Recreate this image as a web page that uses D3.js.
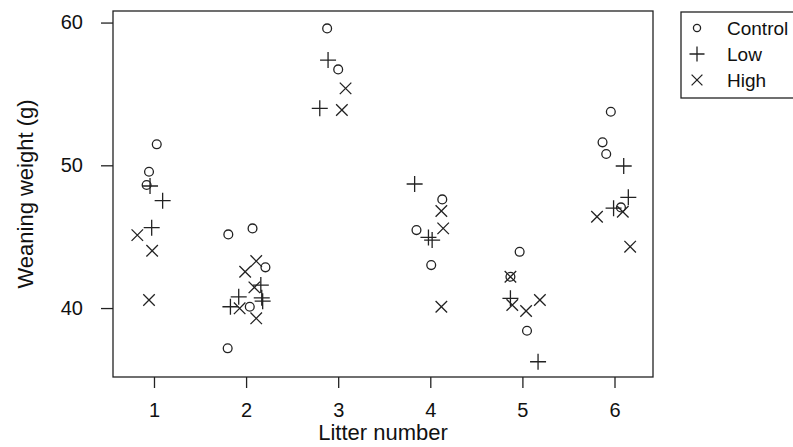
<!DOCTYPE html>
<html>
<head>
<meta charset="utf-8">
<script src="https://cdn.jsdelivr.net/npm/d3@7"></script>
<style>
  body { margin: 0; background: #fff; }
  svg { display: block; font-family: "Liberation Sans", Arial, sans-serif; }
</style>
</head>
<body>
<div id="chart"></div>
<script>
// jittered litter position and weaning weight (g)
const controlX = [1.03, 0.946, 0.92, 1.807, 2.07, 2.21, 2.04, 1.8, 2.88, 3.0, 4.13, 3.85, 4.01, 4.97, 4.87, 5.05, 5.96, 5.87, 5.91, 6.07];
const controlY = [51.47, 49.55, 48.62, 45.16, 45.58, 42.85, 40.09, 37.18, 59.59, 56.72, 47.61, 45.46, 43.01, 43.94, 42.19, 38.41, 53.75, 51.61, 50.79, 47.05];

const lowX = [0.957, 1.094, 0.975, 2.16, 2.17, 2.18, 1.92, 1.83, 2.89, 2.8, 3.83, 3.98, 4.02, 4.87, 5.17, 6.1, 6.15, 5.99];
const lowY = [48.55, 47.52, 45.63, 41.61, 40.72, 40.48, 40.79, 40.09, 57.37, 53.99, 48.69, 44.95, 44.76, 40.68, 36.24, 49.95, 47.76, 47.0];

const highX = [0.819, 0.98, 0.946, 2.11, 1.99, 2.09, 1.93, 2.11, 3.08, 3.04, 4.12, 4.14, 4.12, 4.87, 4.89, 5.19, 5.04, 6.09, 5.81, 6.17];
const highY = [45.11, 44.01, 40.56, 43.29, 42.54, 41.45, 39.98, 39.28, 55.39, 53.87, 46.8, 45.58, 40.09, 42.19, 40.21, 40.56, 39.79, 46.75, 46.4, 44.3];

const litters = [1, 2, 3, 4, 5, 6];
const weightTicks = [40, 50, 60];
const groups = ["Control", "Low", "High"];

/** Graph configs */
const width = 793;
const height = 447;
const box = { left: 113, right: 653, top: 11, bottom: 377 };
const ink = "#222";

const svg = d3
  .select("#chart")
  .append("svg")
  .attr("width", width)
  .attr("height", height);

const x = d3.scaleLinear().domain([0.555, 6.418]).range([box.left, box.right]);
const y = d3.scaleLinear().domain([35.17, 60.81]).range([box.bottom, box.top]);

// axes
const xAxis = svg
  .append("g")
  .attr("transform", `translate(0,${box.bottom})`)
  .call(
    d3.axisBottom(x)
      .tickValues(litters)
      .tickFormat(d3.format("d"))
      .tickSize(11)
      .tickPadding(15)
      .tickSizeOuter(0)
  );

const yAxis = svg
  .append("g")
  .attr("transform", `translate(${box.left},0)`)
  .call(
    d3.axisLeft(y)
      .tickValues(weightTicks)
      .tickFormat(d3.format("d"))
      .tickSize(12)
      .tickPadding(18)
      .tickSizeOuter(0)
  );

[xAxis, yAxis].forEach((g) => {
  g.select(".domain").remove();
  g.selectAll(".tick line").attr("stroke", ink).attr("stroke-width", 1.3);
  g.selectAll(".tick text")
    .attr("fill", "#111")
    .style("font-size", "20px");
});

// plot frame
svg
  .append("rect")
  .attr("x", box.left)
  .attr("y", box.top)
  .attr("width", box.right - box.left)
  .attr("height", box.bottom - box.top)
  .attr("fill", "none")
  .attr("stroke", ink)
  .attr("stroke-width", 1.3);

// axis titles
svg
  .append("text")
  .attr("x", (box.left + box.right) / 2)
  .attr("y", 440)
  .attr("text-anchor", "middle")
  .attr("fill", "#111")
  .style("font-size", "22px")
  .text("Litter number");

svg
  .append("text")
  .attr("transform", `translate(33,${(box.top + box.bottom) / 2}) rotate(-90)`)
  .attr("text-anchor", "middle")
  .attr("fill", "#111")
  .style("font-size", "22px")
  .text("Weaning weight (g)");

/** marker drawing */
const drawMarker = (g, kind, cx, cy, s) => {
  if (kind === "Control") {
    g.append("circle")
      .attr("cx", cx)
      .attr("cy", cy)
      .attr("r", s * 0.55)
      .attr("fill", "none")
      .attr("stroke", ink)
      .attr("stroke-width", 1.3);
  } else if (kind === "Low") {
    const a = s;
    g.append("path")
      .attr("d", `M${cx - a},${cy}H${cx + a}M${cx},${cy - a}V${cy + a}`)
      .attr("stroke", ink)
      .attr("stroke-width", 1.3);
  } else {
    const a = s * 0.72;
    g.append("path")
      .attr("d", `M${cx - a},${cy - a}L${cx + a},${cy + a}M${cx - a},${cy + a}L${cx + a},${cy - a}`)
      .attr("stroke", ink)
      .attr("stroke-width", 1.3);
  }
};

const series = [
  { name: "Control", xs: controlX, ys: controlY },
  { name: "Low", xs: lowX, ys: lowY },
  { name: "High", xs: highX, ys: highY },
];

const points = svg.append("g");
series.forEach((s) => {
  s.xs.forEach((v, i) => {
    drawMarker(points, s.name, x(v), y(s.ys[i]), 8);
  });
});

// legend
const legend = svg.append("g");
legend
  .append("rect")
  .attr("x", 681)
  .attr("y", 12)
  .attr("width", 130)
  .attr("height", 86)
  .attr("fill", "none")
  .attr("stroke", ink)
  .attr("stroke-width", 1.3);

groups.forEach((name, i) => {
  const cy = 28 + i * 26;
  drawMarker(legend, name, 697, cy, name === "Control" ? 6.5 : 7.5);
  legend
    .append("text")
    .attr("x", 727)
    .attr("y", cy)
    .attr("dy", "0.35em")
    .attr("fill", "#111")
    .style("font-size", "19px")
    .text(name);
});
</script>
</body>
</html>
